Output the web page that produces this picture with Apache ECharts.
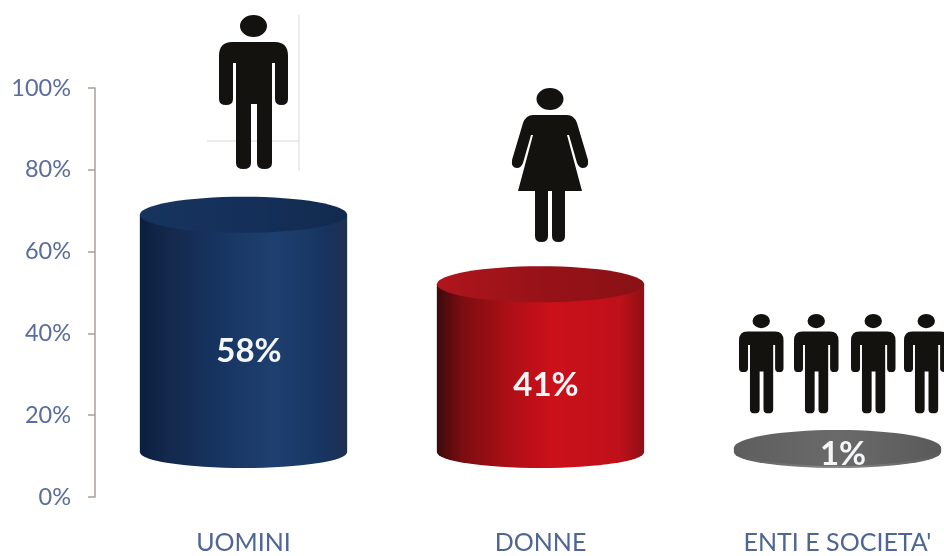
<!DOCTYPE html>
<html>
<head>
<meta charset="utf-8">
<style>html,body{margin:0;padding:0;background:#fff;overflow:hidden}#chart{width:944px;height:556px}</style>
<script src="https://cdn.jsdelivr.net/npm/echarts@6/dist/echarts.min.js"></script>
</head>
<body>
<div id="chart"></div>
<script>
// Ownership shares by holder type
const categories = ['UOMINI', 'DONNE', "ENTI E SOCIETA'"];
const shares = [58, 41, 1];
const valueTicks = [0, 20, 40, 60, 80, 100];

// Cylinders float above the zero line by this many axis units
const floatBase = 11;

const linear = (stops) => ({
  type: 'linear', x: 0, y: 0, x2: 1, y2: 0,
  colorStops: stops.map(([offset, color]) => ({ offset, color }))
});

const sideFill = [
  linear([[0, '#0a1f3f'], [0.15, '#14294d'], [0.35, '#16335f'], [0.65, '#1e4070'], [0.9, '#16345f'], [1, '#1f3050']]),
  linear([[0, '#3c0a0b'], [0.12, '#7a0d11'], [0.35, '#ad0f16'], [0.55, '#cc101a'], [0.88, '#c0101a'], [1, '#8e1015']]),
  linear([[0, '#5a5a5a'], [0.5, '#8a8a8a'], [1, '#5a5a5a']])
];
const topFill = [
  linear([[0, '#17345f'], [0.5, '#14305a'], [1, '#122a4e']]),
  linear([[0, '#b0151c'], [0.5, '#971218'], [1, '#8a1115']]),
  linear([[0, '#5e5e5e'], [0.5, '#6a6a6a'], [1, '#5a5a5a']])
];

function renderCylinder(params, api) {
  const idx = api.value(0);
  const value = api.value(1);
  const bottom = api.coord([idx, floatBase]);
  const top = api.coord([idx, floatBase + value]);
  const cx = bottom[0];
  const rx = api.size([1, 0])[0] * 0.349;
  const ryTop = 18;
  const ryBottom = 16;
  const yb = bottom[1];
  const yt = top[1];
  const labelDrop = value > 5 ? 17.5 : 4;
  // The side runs flat under the lid, so the two shapes leave no seam
  const body = [
    'M', cx - rx, yt,
    'L', cx - rx, yb,
    'A', rx, ryBottom, 0, 0, 0, cx + rx, yb,
    'L', cx + rx, yt,
    'Z'
  ].join(' ');
  return {
    type: 'group',
    children: [
      { type: 'path', shape: { pathData: body }, style: { fill: sideFill[idx] } },
      { type: 'ellipse', shape: { cx, cy: yt, rx, ry: ryTop }, style: { fill: topFill[idx] } },
      {
        type: 'text',
        style: {
          x: cx + 5.5, y: (yb + yt) / 2 + labelDrop,
          text: value + '%', fill: '#f4f6f8',
          font: 'bold 33px Lato', align: 'center', verticalAlign: 'middle'
        }
      }
    ]
  };
}

// Pictogram outlines, in local units of about 78 x 154
const manPath = 'M21 11 A13.5 11 0 1 0 48 11 A13.5 11 0 1 0 21 11 Z ' +
  'M13 27 H56 Q69 27 69 41 V84 Q69 90 62.5 90 Q56 90 56 84 V48 H53 V148 Q53 154 45.5 154 Q38 154 38 148 V89 H32 V148 Q32 154 24.5 154 Q17 154 17 148 V48 H14 V84 Q14 90 7 90 Q0 90 0 84 V41 Q0 27 13 27 Z';
const womanPath = 'M25.5 11 A13.5 11 0 1 0 52.5 11 A13.5 11 0 1 0 25.5 11 Z ' +
  'M22 27 H56 Q63 27 66 35 L77 72 Q78 80 72 80 Q68 80 66 75 L58 47 H56 L71 103 H54 V148 Q54 154 47.5 154 Q41 154 41 148 V103 H37 V148 Q37 154 30.5 154 Q24 154 24 148 V103 H7 L22 47 H20 L12 75 Q10 80 6 80 Q0 80 1 72 L12 35 Q15 27 22 27 Z';

function figure(pathData, x, y, scale) {
  return { type: 'path', x, y, scaleX: scale, scaleY: scale, shape: { pathData }, style: { fill: '#14120e' } };
}
const hairline = (x1, y1, x2, y2) => ({
  type: 'line', shape: { x1, y1, x2, y2 }, style: { stroke: '#d9d6d8', lineWidth: 1 }, silent: true, z: 1
});

function renderFigures() {
  return {
    type: 'group',
    children: [
      figure(manPath, 219, 15, 1),
      figure(womanPath, 511, 88, 1),
      figure(manPath, 739, 314, 0.645),
      figure(manPath, 794, 314, 0.645),
      figure(manPath, 851, 314, 0.645),
      figure(manPath, 904, 314, 0.645)
    ]
  };
}

const chart = echarts.init(document.getElementById('chart'), null, { renderer: 'canvas' });
chart.setOption({
  backgroundColor: '#ffffff',
  animation: false,
  grid: { left: 95, top: 88, height: 409, width: 891, outerBoundsMode: 'none' },
  xAxis: {
    type: 'category',
    data: categories,
    axisLine: { show: false },
    axisTick: { show: false },
    axisLabel: { color: '#4f6594', fontFamily: 'Lato', fontSize: 25, margin: 33, hideOverlap: false }
  },
  yAxis: {
    type: 'value',
    min: valueTicks[0],
    max: valueTicks[valueTicks.length - 1],
    interval: valueTicks[1] - valueTicks[0],
    splitLine: { show: false },
    axisLine: { show: true, lineStyle: { color: '#a89f98', width: 1.5 } },
    axisTick: { show: true, length: 7, lineStyle: { color: '#a89f98', width: 1.5 } },
    axisLabel: { color: '#5a6d9c', fontFamily: 'Lato', fontSize: 23.5, margin: 24, formatter: '{value}%' }
  },
  series: [
    {
      type: 'custom',
      coordinateSystem: 'cartesian2d',
      clip: false,
      encode: { x: 0, y: 1 },
      data: shares.map((v, i) => [i, v]),
      renderItem: renderCylinder
    },
    {
      type: 'custom',
      coordinateSystem: 'none',
      silent: true,
      z: 5,
      data: [0],
      renderItem: renderFigures
    }
  ],
  graphic: [
    hairline(299, 15, 299, 171),
    hairline(207, 141, 299, 141)
  ]
});
</script>
</body>
</html>
